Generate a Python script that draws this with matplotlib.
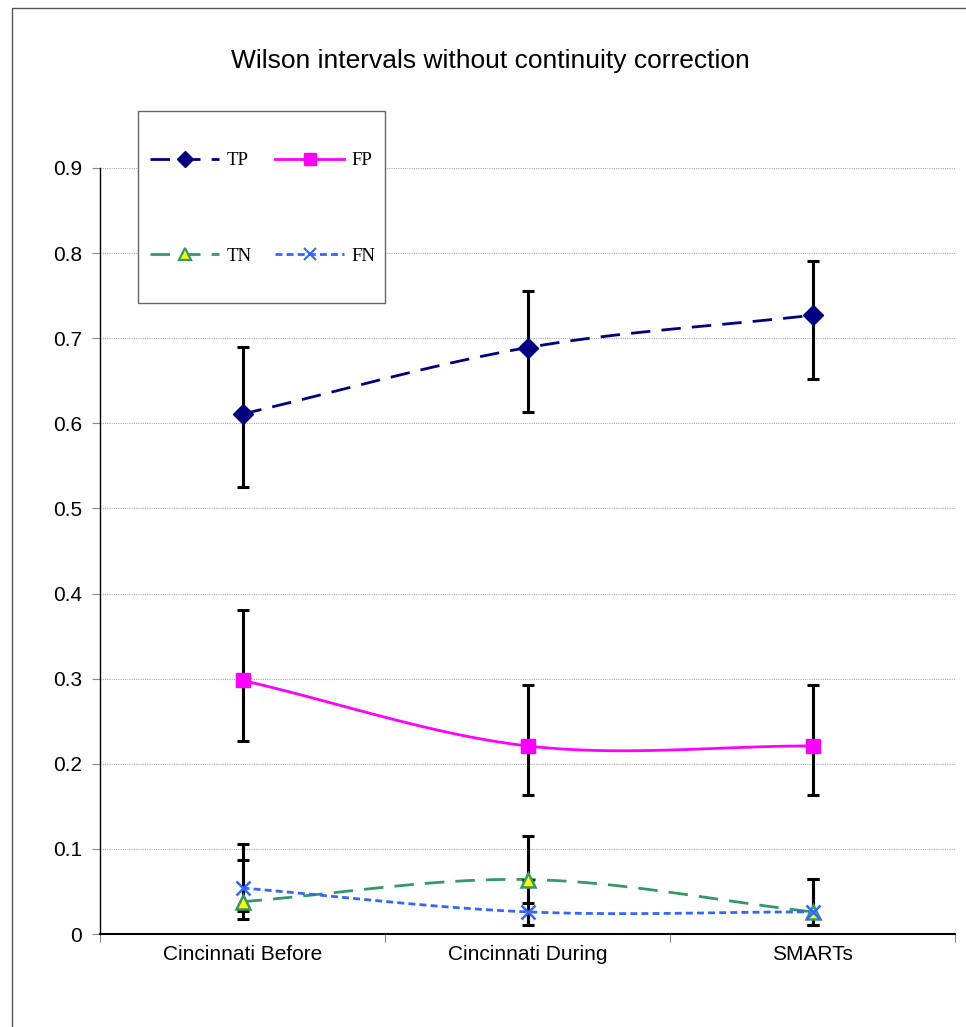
import numpy as np
import matplotlib
matplotlib.use("Agg")
import matplotlib.pyplot as plt
from matplotlib.patches import Rectangle
from matplotlib.lines import Line2D

categories = ["Cincinnati Before", "Cincinnati During", "SMARTs"]

tp = [0.611, 0.689, 0.727]
tp_lo = [0.525, 0.613, 0.652]
tp_hi = [0.690, 0.756, 0.791]

fp = [0.298, 0.221, 0.221]
fp_lo = [0.227, 0.163, 0.163]
fp_hi = [0.381, 0.293, 0.293]

tn = [0.038, 0.064, 0.026]
tn_lo = [0.018, 0.036, 0.011]
tn_hi = [0.087, 0.115, 0.065]

fn = [0.054, 0.026, 0.026]
fn_lo = [0.027, 0.011, 0.011]
fn_hi = [0.106, 0.063, 0.065]

yticks = [0, 0.1, 0.2, 0.3, 0.4, 0.5, 0.6, 0.7, 0.8, 0.9]
ytick_labels = ["0", "0.1", "0.2", "0.3", "0.4", "0.5", "0.6", "0.7", "0.8", "0.9"]


def smooth(xs, ys, n=40):
    # Catmull-Rom style smoothing like Excel smoothed lines
    xs = np.asarray(xs, float)
    ys = np.asarray(ys, float)
    P = np.column_stack([xs, ys])
    pts = [P[0] - (P[1] - P[0])] + list(P) + [P[-1] + (P[-1] - P[-2])]
    pts = np.array(pts)
    out = []
    for i in range(1, len(pts) - 2):
        p0, p1, p2, p3 = pts[i - 1], pts[i], pts[i + 1], pts[i + 2]
        c1 = p1 + (p2 - p0) / 6.0
        c2 = p2 - (p3 - p1) / 6.0
        t = np.linspace(0, 1, n)[:, None]
        seg = ((1 - t) ** 3) * p1 + 3 * ((1 - t) ** 2) * t * c1 + 3 * (1 - t) * t ** 2 * c2 + t ** 3 * p2
        if i > 1:
            seg = seg[1:]
        out.append(seg)
    out = np.vstack(out)
    return out[:, 0], out[:, 1]


W, H = 966, 1027
fig = plt.figure(figsize=(W / 100, H / 100), dpi=100)
fig.patch.set_facecolor("white")

# outer chart border
fig.patches.append(Rectangle((12 / W, -0.05), 1.2, 1 - 8 / H + 0.05, transform=fig.transFigure,
                             fill=False, edgecolor="#555555", linewidth=1.0))

ax = fig.add_axes([100 / W, (H - 934) / H, (955 - 100) / W, (934 - 168) / H])
x = np.arange(len(categories)) + 0.5

ax.set_xlim(0, 3)
ax.set_ylim(0, 0.9)
for s in ["top", "right"]:
    ax.spines[s].set_visible(False)
ax.spines["left"].set_color("black")
ax.spines["bottom"].set_color("black")
ax.spines["left"].set_linewidth(1.0)
ax.spines["bottom"].set_linewidth(1.5)

ax.set_yticks(yticks)
ax.set_yticklabels(ytick_labels, fontsize=15, family="Liberation Sans")
ax.yaxis.grid(True, linestyle=(0, (1, 1)), color="#aaaaaa", linewidth=0.8)
ax.set_axisbelow(True)
ax.tick_params(axis="y", direction="out", length=6, color="#888888", pad=7)

ax.set_xticks([0, 1, 2, 3])
ax.set_xticklabels([])
ax.set_xticks(x, minor=True)
ax.set_xticklabels(categories, minor=True, fontsize=15, family="Liberation Sans")
ax.tick_params(axis="x", which="major", direction="out", length=6, color="#888888")
ax.tick_params(axis="x", which="minor", length=0, pad=8)

navy = "#000080"
mag = "#FF00FF"
green = "#339966"
blue = "#3366FF"

# lines (smoothed)
sx, sy = smooth(x, tp)
ax.plot(sx, sy, color=navy, lw=2, linestyle=(0, (7, 4)), zorder=3)
sx, sy = smooth(x, fp)
ax.plot(sx, sy, color=mag, lw=2, linestyle="-", zorder=3)
sx, sy = smooth(x, tn)
ax.plot(sx, sy, color=green, lw=2, linestyle=(0, (7, 4)), zorder=3)
sx, sy = smooth(x, fn)
ax.plot(sx, sy, color=blue, lw=2, linestyle=(0, (2.5, 1.5)), zorder=3)

# error bars
for vals, lo, hi in [(tp, tp_lo, tp_hi), (fp, fp_lo, fp_hi), (tn, tn_lo, tn_hi), (fn, fn_lo, fn_hi)]:
    v = np.array(vals)
    err = np.vstack([v - np.array(lo), np.array(hi) - v])
    ax.errorbar(x, v, yerr=err, fmt="none", ecolor="black", elinewidth=2.2,
                capsize=4.5, capthick=2.2, zorder=4)

# markers
ax.plot(x, tp, linestyle="none", marker="D", markersize=10, color=navy, zorder=5)
ax.plot(x, fp, linestyle="none", marker="s", markersize=10.5, color=mag, zorder=5)
ax.plot(x, tn, linestyle="none", marker="^", markersize=10, markerfacecolor="yellow",
        markeredgecolor=green, markeredgewidth=1.8, zorder=5)
ax.plot(x, fn, linestyle="none", marker="x", markersize=10, markeredgewidth=1.8, color=blue, zorder=5)

fig.text(490 / W, 1 - 61 / H, "Wilson intervals without continuity correction",
         ha="center", va="center", fontsize=19, family="Liberation Sans")

# legend frame
fig.patches.append(Rectangle((138 / W, 1 - 303 / H), (385 - 138) / W, (303 - 111) / H,
                             transform=fig.transFigure, fill=True, facecolor="white",
                             edgecolor="#666666", linewidth=1.0, zorder=10))

handles = [
    Line2D([], [], color=navy, lw=2, linestyle=(0, (7, 4)), marker="D", markersize=8),
    Line2D([], [], color=green, lw=2, linestyle=(0, (7, 4)), marker="^", markersize=9,
           markerfacecolor="yellow", markeredgecolor=green, markeredgewidth=1.6),
    Line2D([], [], color=mag, lw=2, marker="s", markersize=9),
    Line2D([], [], color=blue, lw=2, linestyle=(0, (2.5, 1.5)), marker="x", markersize=8, markeredgewidth=1.5),
]
labels = ["TP", "TN", "FP", "FN"]
leg = fig.legend(handles, labels, ncol=2, loc="upper left",
                 bbox_to_anchor=(150 / W, 1 - 152 / H),
                 prop={"family": "Liberation Serif", "size": 13.5},
                 handlelength=3.7, numpoints=1, labelspacing=4.2, columnspacing=1.25,
                 handletextpad=0.37, borderpad=0, borderaxespad=0, frameon=False)
leg.set_zorder(11)

fig.savefig("out.png", dpi=100)
